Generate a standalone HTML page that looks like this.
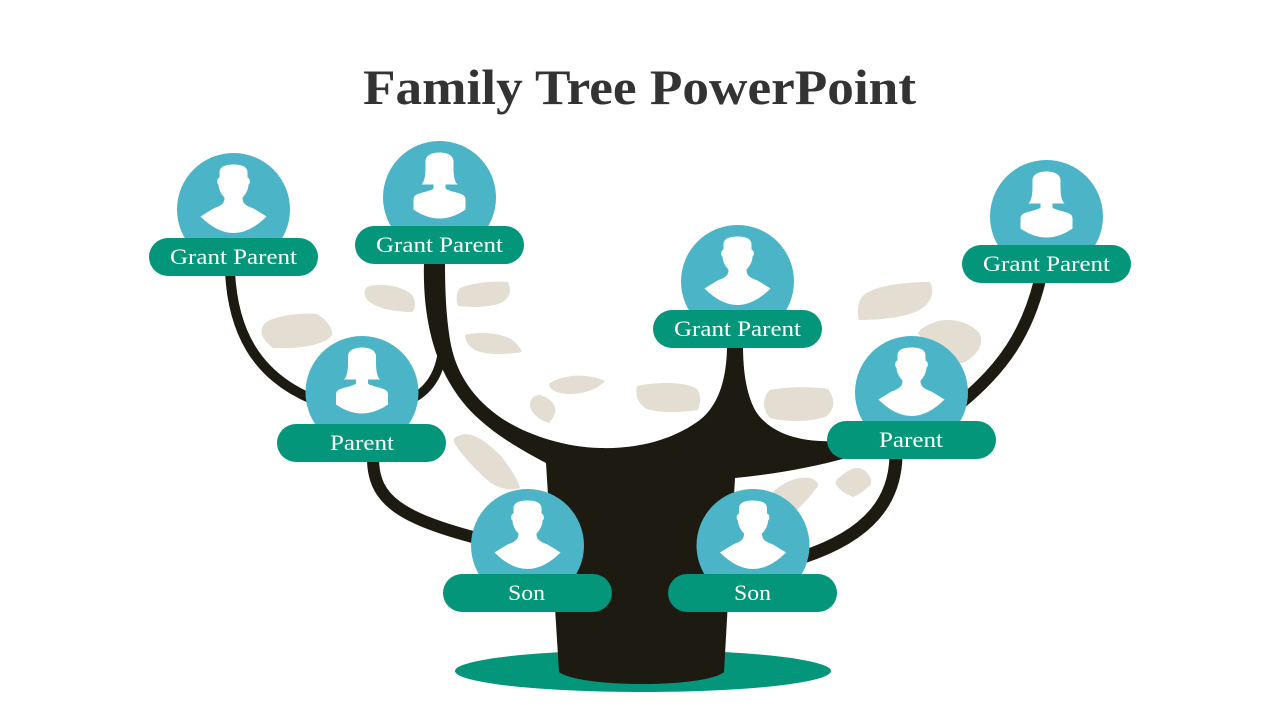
<!DOCTYPE html>
<html>
<head>
<meta charset="utf-8">
<style>
  html,body{margin:0;padding:0;background:#fff;}
  body{width:1280px;height:720px;overflow:hidden;}
  svg{display:block;}
  .pt{font-family:"Liberation Serif","DejaVu Serif",serif;font-size:22px;fill:#fff;}
  .tt{font-family:"Liberation Serif","DejaVu Serif",serif;font-size:50px;font-weight:bold;fill:#333333;}
</style>
</head>
<body>
<svg width="1280" height="720" viewBox="0 0 1280 720" xmlns="http://www.w3.org/2000/svg">
  <rect width="1280" height="720" fill="#ffffff"/>

  <!-- title -->
  <text class="tt" x="363" y="104" textLength="553" lengthAdjust="spacingAndGlyphs">Family Tree PowerPoint</text>

  <!-- leaves -->
  <g fill="#E3DDD2">
    <path d="M 270 320 C 285 314, 305 313, 317 314 C 325 319, 333 327, 332 335 C 327 343, 310 347, 290 348 C 280 348, 274 348, 273 348 C 265 342, 260 335, 262 328 C 264 324, 266 322, 270 320 Z"/>
    <path d="M 370 286 C 385 283, 405 287, 413 296 C 416 303, 415 310, 412 312 C 395 312, 372 308, 366 298 C 363 292, 365 287, 370 286 Z"/>
    <path d="M 460 288 C 475 282, 495 281, 508 282 C 512 290, 510 300, 498 304 C 485 308, 470 307, 458 306 C 456 300, 456 293, 460 288 Z"/>
    <path d="M 465 335 C 480 331, 505 333, 515 342 C 519 346, 521 350, 522 352 C 505 355, 485 355, 475 350 C 468 346, 465 340, 465 335 Z"/>
    <path d="M 549 384 C 560 375, 585 372, 605 381 C 595 392, 575 396, 560 393 C 553 391, 549 388, 549 384 Z"/>
    <path d="M 540 395 C 550 398, 557 405, 555 413 C 553 418, 551 421, 549 423 C 540 420, 531 414, 530 405 C 530 399, 534 395, 540 395 Z"/>
    <path d="M 637 386 C 655 382, 685 381, 697 389 C 702 396, 700 404, 698 410 C 680 413, 655 413, 645 408 C 637 402, 635 394, 637 386 Z"/>
    <path d="M 770 390 C 790 386, 815 387, 828 389 C 835 398, 836 410, 825 417 C 810 422, 785 422, 770 418 C 762 410, 762 397, 770 390 Z"/>
    <path d="M 860 300 C 865 288, 895 282, 930 282 C 935 292, 932 305, 915 312 C 900 318, 880 320, 859 320 C 857 313, 858 306, 860 300 Z"/>
    <path d="M 935 322 C 950 317, 970 322, 979 333 C 985 342, 978 355, 965 362 C 955 366, 945 362, 940 356 C 932 348, 922 340, 918 333 C 922 327, 928 325, 935 322 Z"/>
    <path d="M 458 436 C 470 430, 485 440, 500 455 C 510 467, 518 480, 520 488 C 510 492, 495 488, 485 478 C 470 464, 458 450, 454 442 C 453 439, 455 437, 458 436 Z"/>
    <path d="M 770 495 C 780 484, 795 476, 810 478 C 816 480, 819 483, 818 486 C 810 497, 800 508, 790 515 L 770 512 Z"/>
    <path d="M 840 477 C 848 470, 855 466, 862 469 C 868 472, 872 478, 871 484 C 866 490, 858 495, 853 497 C 845 494, 838 489, 836 484 C 835 481, 837 479, 840 477 Z"/>
  </g>

  <!-- ground -->
  <ellipse cx="643" cy="671" rx="188" ry="21" fill="#03967A"/>

  <!-- trunk & main branches -->
  <path fill="#1D1A12" d="M 424 262 C 422 330, 440 385, 480 420 C 500 438, 525 452, 546 463 L 559 672 C 580 688, 705 688, 724 672 L 735 478 C 775 474, 810 468, 850 457 L 850 440 C 805 445, 770 435, 755 410 C 746 393, 743 370, 743 345 L 727 345 C 727 385, 715 410, 697 422 C 670 441, 635 449, 600 448 C 560 447, 520 432, 497 415 C 470 395, 455 370, 450 340 C 446 315, 445 290, 445 262 Z"/>

  <!-- thin branches -->
  <g fill="none" stroke="#1D1A12" stroke-linecap="butt">
    <path d="M 230 272 C 233 330, 255 375, 312 399" stroke-width="10"/>
    <path d="M 412 399 C 431 389, 441 371, 443 346" stroke-width="9"/>
    <path d="M 373 458 C 373 500, 400 518, 480 539" stroke-width="12"/>
    <path d="M 1040 280 C 1027 333, 1003 368, 962 402" stroke-width="12"/>
    <path d="M 896 456 C 895 500, 870 535, 803 557" stroke-width="13"/>
  </g>

  <!-- circles -->
  <g fill="#4BB5C7">
    <circle cx="233.5" cy="209.5" r="56.5"/>
    <circle cx="439.5" cy="197.5" r="56.5"/>
    <circle cx="737.5" cy="281.5" r="56.5"/>
    <circle cx="1046.5" cy="216.5" r="56.5"/>
    <circle cx="362" cy="392.5" r="56.5"/>
    <circle cx="911.5" cy="392.5" r="56.5"/>
    <circle cx="527.5" cy="545.5" r="56.5"/>
    <circle cx="753" cy="545.5" r="56.5"/>
  </g>

  <!-- person icons -->
  <g fill="#ffffff">
    <!-- male -->
    <path transform="translate(233.5 209.5)" d="M -9 -12 C -9 -6, -12 -4, -20 -1 L -33 7 Q 0 40, 33 7 L 20 -1 C 12 -4, 9 -6, 9 -12 C 13 -16, 15 -21, 15 -25 C 17 -26, 17 -31, 14 -32 L 14 -37 C 14 -43, 8 -45, 0 -45 C -8 -45, -14 -43, -14 -37 L -14 -32 C -17 -31, -17 -26, -15 -25 C -15 -21, -13 -16, -9 -12 Z"/>
    <path transform="translate(737.5 281.5)" d="M -9 -12 C -9 -6, -12 -4, -20 -1 L -33 7 Q 0 40, 33 7 L 20 -1 C 12 -4, 9 -6, 9 -12 C 13 -16, 15 -21, 15 -25 C 17 -26, 17 -31, 14 -32 L 14 -37 C 14 -43, 8 -45, 0 -45 C -8 -45, -14 -43, -14 -37 L -14 -32 C -17 -31, -17 -26, -15 -25 C -15 -21, -13 -16, -9 -12 Z"/>
    <path transform="translate(911.5 392.5)" d="M -9 -12 C -9 -6, -12 -4, -20 -1 L -33 7 Q 0 40, 33 7 L 20 -1 C 12 -4, 9 -6, 9 -12 C 13 -16, 15 -21, 15 -25 C 17 -26, 17 -31, 14 -32 L 14 -37 C 14 -43, 8 -45, 0 -45 C -8 -45, -14 -43, -14 -37 L -14 -32 C -17 -31, -17 -26, -15 -25 C -15 -21, -13 -16, -9 -12 Z"/>
    <path transform="translate(527.5 545.5)" d="M -9 -12 C -9 -6, -12 -4, -20 -1 L -33 7 Q 0 40, 33 7 L 20 -1 C 12 -4, 9 -6, 9 -12 C 13 -16, 15 -21, 15 -25 C 17 -26, 17 -31, 14 -32 L 14 -37 C 14 -43, 8 -45, 0 -45 C -8 -45, -14 -43, -14 -37 L -14 -32 C -17 -31, -17 -26, -15 -25 C -15 -21, -13 -16, -9 -12 Z"/>
    <path transform="translate(753 545.5)" d="M -9 -12 C -9 -6, -12 -4, -20 -1 L -33 7 Q 0 40, 33 7 L 20 -1 C 12 -4, 9 -6, 9 -12 C 13 -16, 15 -21, 15 -25 C 17 -26, 17 -31, 14 -32 L 14 -37 C 14 -43, 8 -45, 0 -45 C -8 -45, -14 -43, -14 -37 L -14 -32 C -17 -31, -17 -26, -15 -25 C -15 -21, -13 -16, -9 -12 Z"/>
    <!-- female -->
    <path transform="translate(439.5 197.5)" d="M -6 -13 L -6 -9 C -8 -7, -14 -6, -20 -4 C -24 -3, -26 -1, -26 2 L -26 12 Q 0 30, 26 12 L 26 2 C 26 -1, 24 -3, 20 -4 C 14 -6, 8 -7, 6 -9 L 6 -13 L 18 -13 C 15 -16, 14 -22, 14 -30 L 14 -36 C 14 -42, 8 -45, 0 -45 C -8 -45, -14 -42, -14 -36 L -14 -30 C -14 -22, -15 -16, -18 -13 Z"/>
    <path transform="translate(1046.5 216.5)" d="M -6 -13 L -6 -9 C -8 -7, -14 -6, -20 -4 C -24 -3, -26 -1, -26 2 L -26 12 Q 0 30, 26 12 L 26 2 C 26 -1, 24 -3, 20 -4 C 14 -6, 8 -7, 6 -9 L 6 -13 L 18 -13 C 15 -16, 14 -22, 14 -30 L 14 -36 C 14 -42, 8 -45, 0 -45 C -8 -45, -14 -42, -14 -36 L -14 -30 C -14 -22, -15 -16, -18 -13 Z"/>
    <path transform="translate(362 392.5)" d="M -6 -13 L -6 -9 C -8 -7, -14 -6, -20 -4 C -24 -3, -26 -1, -26 2 L -26 12 Q 0 30, 26 12 L 26 2 C 26 -1, 24 -3, 20 -4 C 14 -6, 8 -7, 6 -9 L 6 -13 L 18 -13 C 15 -16, 14 -22, 14 -30 L 14 -36 C 14 -42, 8 -45, 0 -45 C -8 -45, -14 -42, -14 -36 L -14 -30 C -14 -22, -15 -16, -18 -13 Z"/>
  </g>

  <!-- pills -->
  <g fill="#03967A">
    <rect x="149" y="238" width="169" height="38" rx="19"/>
    <rect x="355" y="226" width="169" height="38" rx="19"/>
    <rect x="653" y="310" width="169" height="38" rx="19"/>
    <rect x="962" y="245" width="169" height="38" rx="19"/>
    <rect x="277" y="424" width="169" height="38" rx="19"/>
    <rect x="827" y="421" width="169" height="38" rx="19"/>
    <rect x="443" y="574" width="169" height="38" rx="19"/>
    <rect x="668" y="574" width="169" height="38" rx="19"/>
  </g>

  <!-- pill labels -->
  <text class="pt" x="170" y="264" textLength="127" lengthAdjust="spacingAndGlyphs">Grant Parent</text>
  <text class="pt" x="376" y="252" textLength="127" lengthAdjust="spacingAndGlyphs">Grant Parent</text>
  <text class="pt" x="674" y="336" textLength="127" lengthAdjust="spacingAndGlyphs">Grant Parent</text>
  <text class="pt" x="983" y="271" textLength="127" lengthAdjust="spacingAndGlyphs">Grant Parent</text>
  <text class="pt" x="330" y="450" textLength="64" lengthAdjust="spacingAndGlyphs">Parent</text>
  <text class="pt" x="879" y="447" textLength="64" lengthAdjust="spacingAndGlyphs">Parent</text>
  <text class="pt" x="508" y="600" textLength="37" lengthAdjust="spacingAndGlyphs">Son</text>
  <text class="pt" x="734" y="600" textLength="37" lengthAdjust="spacingAndGlyphs">Son</text>
</svg>
</body>
</html>
